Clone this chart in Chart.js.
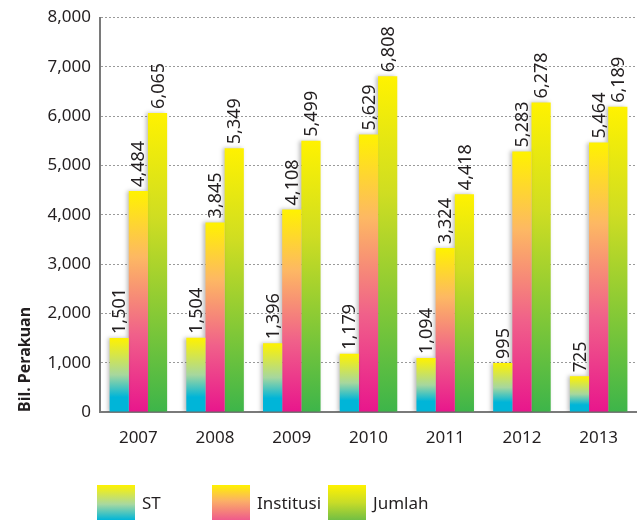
<!DOCTYPE html>
<html>
<head>
<meta charset="utf-8">
<script src="https://cdn.jsdelivr.net/npm/chart.js@4.4.0/dist/chart.umd.min.js"></script>
<style>
  html, body { margin: 0; padding: 0; background: #fff; }
  #wrap { position: relative; width: 637px; height: 522px; overflow: hidden; }
  #legend { position: absolute; top: 485px; left: 0; width: 637px; height: 35px; font-family: "Noto Sans", sans-serif; font-size: 17px; color: #231f20; }
  .item { position: absolute; top: 0; height: 35px; display: flex; align-items: center; }
  .box { width: 38px; height: 35px; margin-right: 7px; }
</style>
</head>
<body>
<div id="wrap">
  <canvas id="graphique" width="637" height="522"></canvas>
  <div id="legend">
    <div class="item" style="left:97px"><div class="box" style="background:linear-gradient(#fff200,#a8d8a0 55%,#00b5d8)"></div>ST</div>
    <div class="item" style="left:212px"><div class="box" style="background:linear-gradient(#fff200,#fbb066 45%,#ef5a8c)"></div>Institusi</div>
    <div class="item" style="left:328px"><div class="box" style="background:linear-gradient(#fff200,#c8dc28 50%,#72bf44)"></div>Jumlah</div>
  </div>
</div>
<script>
const tahun     = ['2007', '2008', '2009', '2010', '2011', '2012', '2013'];
const st        = [1501, 1504, 1396, 1179, 1094, 995, 725];
const institusi = [4484, 3845, 4108, 5629, 3324, 5283, 5464];
const jumlah    = [6065, 5349, 5499, 6808, 4418, 6278, 6189];
const yTicks    = [0, 1000, 2000, 3000, 4000, 5000, 6000, 7000, 8000];

const arretsCouleurs = {
    st:        [[0, '#fff200'], [0.5, '#a6d79e'], [0.8, '#00b5d8'], [1, '#00b5d8']],
    institusi: [[0, '#fff200'], [0.3, '#fdb863'], [0.65, '#f0608a'], [1, '#e8168c']],
    jumlah:    [[0, '#fff200'], [0.35, '#cfdd22'], [1, '#3db54a']]
};

function degrade(nom) {
    return function (c) {
        const chart = c.chart;
        if (!chart.chartArea || c.type !== 'data') return arretsCouleurs[nom][0][1];
        const y = chart.scales.y;
        const haut = y.getPixelForValue(c.raw);
        const bas  = y.getPixelForValue(0);
        const g = chart.ctx.createLinearGradient(0, haut, 0, bas);
        arretsCouleurs[nom].forEach(s => g.addColorStop(s[0], s[1]));
        return g;
    };
}

// valeurs écrites à la verticale au-dessus des barres
const etiquettes = {
    id: 'etiquettes',
    afterDatasetsDraw(chart) {
        const ctx = chart.ctx;
        ctx.save();
        ctx.fillStyle = '#231f20';
        ctx.font = '18px "Noto Sans", sans-serif';
        ctx.textAlign = 'left';
        ctx.textBaseline = 'middle';
        chart.data.datasets.forEach((ds, i) => {
            chart.getDatasetMeta(i).data.forEach((bar, j) => {
                ctx.save();
                ctx.translate(bar.x + 1, bar.y - 4);
                ctx.rotate(-Math.PI / 2);
                ctx.fillText(ds.data[j].toLocaleString('en-US'), 0, 0);
                ctx.restore();
            });
        });
        ctx.restore();
    }
};

const ombre = {
    id: 'ombre',
    beforeDatasetsDraw(chart) {
        const ctx = chart.ctx;
        ctx.save();
        ctx.shadowColor = 'rgba(0,0,0,0.25)';
        ctx.shadowBlur = 4;
        ctx.shadowOffsetX = -2;
    },
    afterDatasetsDraw(chart) {
        chart.ctx.restore();
    }
};

new Chart(document.getElementById('graphique'), {
    type: 'bar',
    data: {
        labels: tahun,
        datasets: [
            { label: 'ST', data: st, backgroundColor: degrade('st') },
            { label: 'Institusi', data: institusi, backgroundColor: degrade('institusi') },
            { label: 'Jumlah', data: jumlah, backgroundColor: degrade('jumlah') }
        ]
    },
    options: {
        responsive: false,
        animation: false,
        events: [],
        layout: { padding: { top: 14, right: -3, left: 0, bottom: 0 } },
        datasets: { bar: { categoryPercentage: 0.75, barPercentage: 1 } },
        plugins: { legend: { display: false }, tooltip: { enabled: false } },
        scales: {
            x: {
                grid: { display: false },
                border: { display: true, color: '#7a7a7a', width: 2 },
                ticks: { color: '#231f20', padding: 8, font: { family: 'Noto Sans', size: 17 } },
                afterFit(s) { s.height = 110; }
            },
            y: {
                min: 0, max: 8000,
                afterBuildTicks(s) { s.ticks = yTicks.map(v => ({ value: v })); },
                border: { display: true, color: '#7a7a7a', width: 2, dash: [2, 2] },
                grid: { color: '#9a9a9a', lineWidth: 1, drawTicks: false },
                ticks: {
                    color: '#231f20', padding: 9,
                    font: { family: 'Noto Sans', size: 17, lineHeight: 1 },
                    callback: v => v.toLocaleString('en-US')
                },
                title: {
                    display: true, text: 'Bil. Perakuan', color: '#231f20', align: 'start',
                    padding: { top: 16, bottom: 0 },
                    font: { family: 'Noto Sans', size: 16, weight: 'bold' }
                },
                afterFit(s) { s.width = 100; }
            }
        }
    },
    plugins: [ombre, etiquettes]
});
</script>
</body>
</html>
